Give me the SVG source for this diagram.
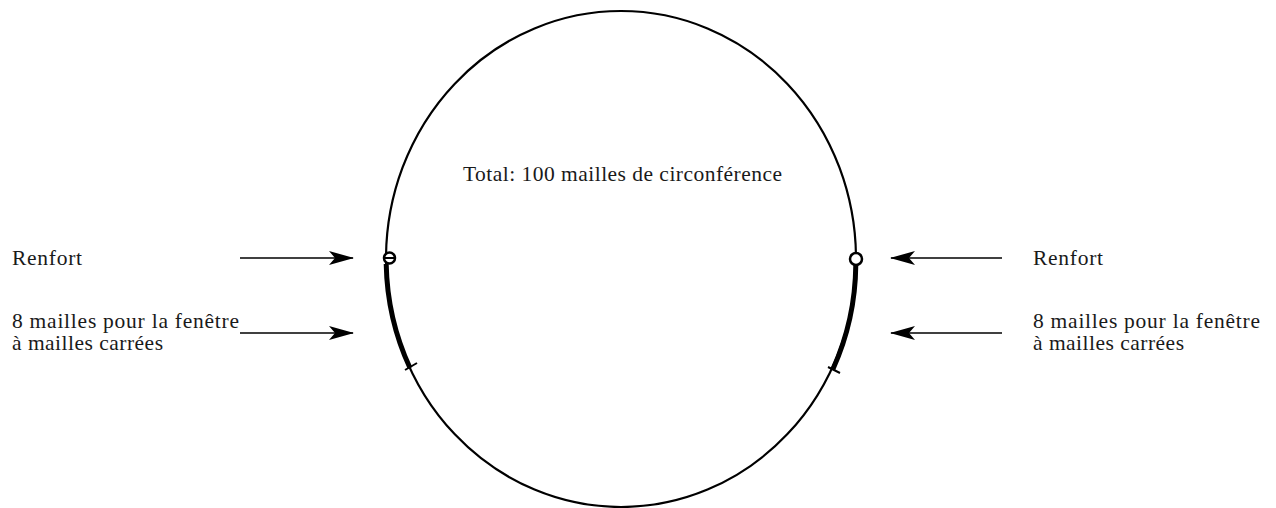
<svg xmlns="http://www.w3.org/2000/svg" width="1276" height="508" viewBox="0 0 1276 508">
<defs>
<style>
.t{font-family:"Liberation Serif","Times New Roman",serif;font-size:21.5px;fill:#1a1a1a}
.ln{stroke:#000;fill:none}
.ar{stroke:#000;stroke-width:1.5;fill:none;marker-end:url(#ah)}
</style>
<marker id="ah" markerWidth="26" markerHeight="14" refX="24" refY="7" orient="auto" markerUnits="userSpaceOnUse">
<path d="M0,0 L25,7 L0,14 L6,7 Z" fill="#000"/>
</marker>
</defs>
<rect width="1276" height="508" fill="#fff"/>
<g id="ring">
<ellipse cx="621" cy="259" rx="235" ry="248" class="ln" stroke-width="2.2"/>
<path d="M386.2,264 A235,248 0 0 0 410,368" class="ln" stroke-width="5"/>
<path d="M855.8,265 A235,248 0 0 1 833,369" class="ln" stroke-width="5"/>
<line x1="405" y1="370" x2="417" y2="363" class="ln" stroke-width="2"/>
<line x1="828" y1="367" x2="840" y2="373" class="ln" stroke-width="2"/>
<circle cx="389.5" cy="258" r="5.5" fill="#fff" stroke="#000" stroke-width="2.5"/>
<line x1="384" y1="258" x2="395" y2="258" class="ln" stroke-width="2"/>
<circle cx="856" cy="259" r="6" fill="#fff" stroke="#000" stroke-width="2.5"/>
</g>
<g id="labels">
<text class="t" x="463" y="181" textLength="319">Total: 100 mailles de circonférence</text>
<text class="t" x="12" y="265" textLength="70">Renfort</text>
<text class="t" x="12" y="328" textLength="227">8 mailles pour la fenêtre</text>
<text class="t" x="12" y="350" textLength="151">à mailles carrées</text>
<text class="t" x="1033" y="265" textLength="70">Renfort</text>
<text class="t" x="1033" y="328" textLength="227">8 mailles pour la fenêtre</text>
<text class="t" x="1033" y="350" textLength="151">à mailles carrées</text>
</g>
<g id="connectors">
<line x1="240" y1="258" x2="353" y2="258" class="ar"/>
<line x1="240" y1="333" x2="353" y2="333" class="ar"/>
<line x1="1002" y1="258" x2="891" y2="258" class="ar"/>
<line x1="1002" y1="333" x2="891" y2="333" class="ar"/>
</g>
</svg>
